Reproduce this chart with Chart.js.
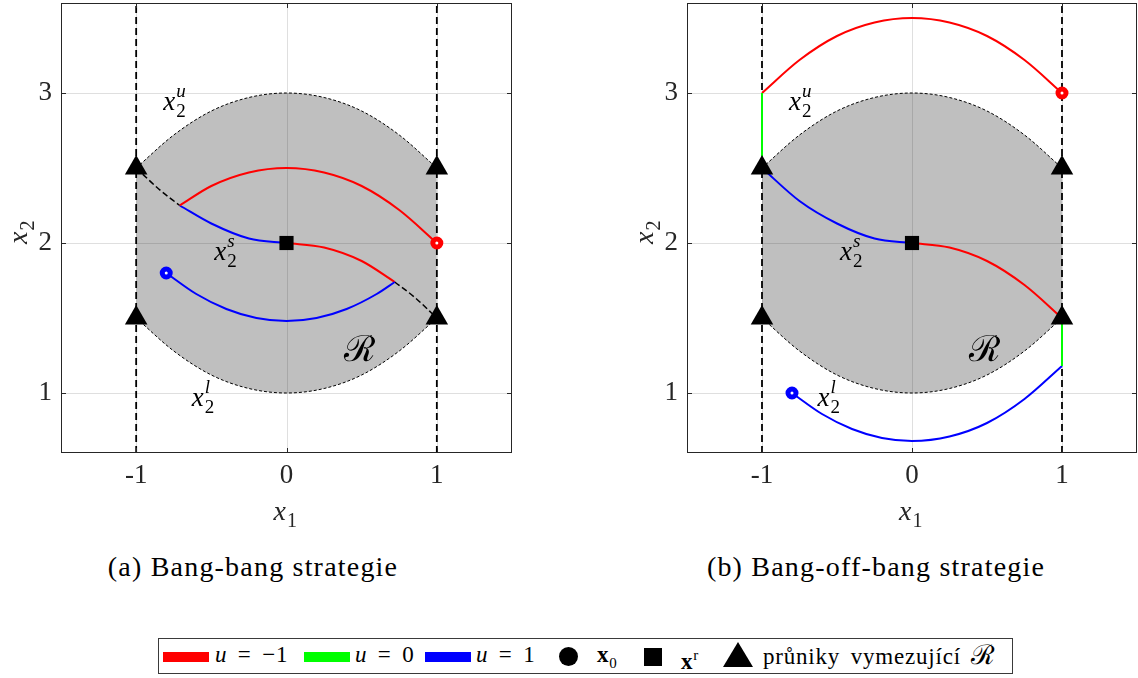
<!DOCTYPE html>
<html>
<head>
<meta charset="utf-8">
<title>Bang-bang a bang-off-bang strategie</title>
<script src="https://cdn.jsdelivr.net/npm/chart.js@4.4.1/dist/chart.umd.min.js"></script>
<style>
  html, body { margin: 0; padding: 0; background: #fff; }
  body { position: relative; width: 1138px; height: 678px; overflow: hidden;
         font-family: "Liberation Serif", serif; color: #000; }
  canvas { position: absolute; top: 0; }
  #chartA { left: 0; }
  #chartB { left: 569px; }
  .caption { position: absolute; top: 551px; font-size: 28px; letter-spacing: 1.2px; white-space: nowrap;
             transform: translateX(-50%); }
  #legend { position: absolute; left: 158px; top: 638px; width: 855px; height: 36px; box-sizing: border-box;
            border: 1px solid #3a3a3a; font-size: 23px; }
  #legend .it { position: absolute; white-space: nowrap; }
  #legend .sw { top: 13px; width: 46px; height: 10px; }
  #legend .tx { top: 2px; line-height: 28px; letter-spacing: 0.8px; word-spacing: 4px; }
  #legend sub, #legend sup { font-size: 15px; }
  .script { font-family: "DejaVu Serif", serif; font-size: 27px; }
</style>
</head>
<body>
<canvas id="chartA" width="569" height="540"></canvas>
<canvas id="chartB" width="569" height="540"></canvas>

<div class="caption" style="left:253px">(a) Bang-bang strategie</div>
<div class="caption" style="left:876px">(b) Bang-off-bang strategie</div>

<div id="legend">
  <span class="it sw" style="left:4px;background:#ff0000"></span>
  <span class="it tx" style="left:56px"><i>u</i> = −1</span>
  <span class="it sw" style="left:145px;background:#00ff00"></span>
  <span class="it tx" style="left:196px"><i>u</i> = 0</span>
  <span class="it sw" style="left:266px;background:#0000ff"></span>
  <span class="it tx" style="left:317px"><i>u</i> = 1</span>
  <span class="it" style="left:400px;top:8px;width:19px;height:19px;border-radius:50%;background:#000"></span>
  <span class="it tx" style="left:438px"><b>x</b><sub>0</sub></span>
  <span class="it" style="left:485px;top:9px;width:18px;height:18px;background:#000"></span>
  <span class="it tx" style="left:522px"><b>x</b><sup>r</sup></span>
  <span class="it" style="left:564px;top:3px;width:0;height:0;border-left:15px solid transparent;border-right:15px solid transparent;border-bottom:25px solid #000"></span>
  <span class="it tx" style="left:604px">průniky vymezující <span class="script">ℛ</span></span>
</div>

<script>
// axes
const xMin = -1.5, xMax = 1.5;
const yMin = 0.6, yMax = 3.6;
const xTicks = [-1, 0, 1];
const yTicks = [1, 2, 3];

// region R: upper bound x2^u and lower bound x2^l
const regionX = [-1, -0.75, -0.5, -0.25, 0, 0.25, 0.5, 0.75, 1];
const upperX2 = [2.5, 2.72, 2.88, 2.97, 3, 2.97, 2.88, 2.72, 2.5];
const lowerX2 = [1.5, 1.28, 1.12, 1.03, 1, 1.03, 1.12, 1.28, 1.5];

// switching curve x2^s
const switchLX = [-1, -0.75, -0.5, -0.25, 0];
const switchLY = [2.5, 2.28, 2.13, 2.03, 2];
const switchRX = [0, 0.25, 0.5, 0.75, 1];
const switchRY = [2, 1.97, 1.88, 1.72, 1.5];
// parts of x2^s not followed by a trajectory in (a)
const switchOutLX = [-1, -0.85, -0.71];
const switchOutLY = [2.5, 2.36, 2.25];
const switchOutRX = [0.72, 0.85, 1];
const switchOutRY = [1.74, 1.64, 1.5];

// intersections bounding R, target state
const cornerX = [-1, -1, 1, 1];
const cornerY = [2.5, 1.5, 2.5, 1.5];
const refX = [0];
const refY = [2];

// (a) bang-bang
const aRedX = [1, 0.75, 0.5, 0.25, 0, -0.25, -0.5, -0.71];
const aRedY = [2, 2.22, 2.38, 2.47, 2.5, 2.47, 2.38, 2.25];
const aBlueSwX = [-0.71, -0.5, -0.25, 0];
const aBlueSwY = [2.25, 2.13, 2.03, 2];
const aBlueX = [-0.8, -0.6, -0.4, -0.2, 0, 0.2, 0.4, 0.6, 0.72];
const aBlueY = [1.8, 1.66, 1.56, 1.5, 1.48, 1.5, 1.56, 1.66, 1.74];
const aRedSwX = [0, 0.25, 0.5, 0.72];
const aRedSwY = [2, 1.97, 1.88, 1.74];
const aStartRed = [1, 2];
const aStartBlue = [-0.8, 1.8];

// (b) bang-off-bang
const bRedX = [1, 0.75, 0.5, 0.25, 0, -0.25, -0.5, -0.75, -1];
const bRedY = [3, 3.22, 3.38, 3.47, 3.5, 3.47, 3.38, 3.22, 3];
const bGreenLX = [-1, -1];
const bGreenLY = [3, 2.5];
const bBlueX = [-0.8, -0.6, -0.4, -0.2, 0, 0.25, 0.5, 0.75, 1];
const bBlueY = [1, 0.86, 0.76, 0.7, 0.68, 0.71, 0.8, 0.96, 1.18];
const bGreenRX = [1, 1];
const bGreenRY = [1.18, 1.5];
const bStartRed = [1, 3];
const bStartBlue = [-0.8, 1];

const RED = '#ff0000', GREEN = '#00ff00', BLUE = '#0000ff', INK = '#262626';
const SERIF = '"Liberation Serif", serif';

const pts = (xs, ys) => xs.map((x, i) => ({ x, y: ys[i] }));

function curve(xs, ys, color) {
  return { data: pts(xs, ys), borderColor: color, borderWidth: 2, pointRadius: 0, fill: false,
           cubicInterpolationMode: 'monotone', order: 3 };
}
function segment(xs, ys, color, width, dash, order) {
  return { data: pts(xs, ys), borderColor: color, borderWidth: width, borderDash: dash, pointRadius: 0,
           fill: false, tension: 0, order };
}
function dashedCurve(xs, ys) {
  return { data: pts(xs, ys), borderColor: '#000', borderWidth: 1.5, borderDash: [6, 3], pointRadius: 0,
           fill: false, cubicInterpolationMode: 'monotone', order: 7 };
}
function marks(xs, ys, style, radius, color) {
  return { data: pts(xs, ys), showLine: false, pointStyle: style, pointRadius: radius,
           pointBackgroundColor: color, pointBorderColor: color, pointBorderWidth: 0, order: 1 };
}
function start(p, color) {
  return { data: [{ x: p[0], y: p[1] }], showLine: false, pointStyle: 'circle', pointRadius: 4,
           pointBorderWidth: 5, pointBorderColor: color, pointBackgroundColor: '#fff', order: 0 };
}
function baseSets() {
  return [
    { data: pts(regionX, upperX2), borderColor: '#000', borderWidth: 1, borderDash: [3, 2], pointRadius: 0,
      cubicInterpolationMode: 'monotone', fill: '+1', backgroundColor: '#bfbfbf', order: 9 },
    { data: pts(regionX, lowerX2), borderColor: '#000', borderWidth: 1, borderDash: [3, 2], pointRadius: 0,
      cubicInterpolationMode: 'monotone', fill: false, order: 9 },
    segment([-1, -1], [yMin, yMax], '#000', 1.8, [7, 4], 8),
    segment([1, 1], [yMin, yMax], '#000', 1.8, [7, 4], 8)
  ];
}

// italic symbol with optional subscript / superscript
function mathText(ctx, x, y, base, sub, sup, size) {
  ctx.textAlign = 'left';
  ctx.textBaseline = 'alphabetic';
  ctx.font = `italic ${size}px ${SERIF}`;
  ctx.fillText(base, x, y);
  const w = ctx.measureText(base).width;
  const small = Math.round(size * 0.7);
  if (sub) { ctx.font = `${small}px ${SERIF}`; ctx.fillText(sub, x + w + 1, y + size * 0.26); }
  if (sup) { ctx.font = `italic ${small}px ${SERIF}`; ctx.fillText(sup, x + w + 1, y - size * 0.48); }
}

const decor = {
  id: 'decor',
  beforeDatasetsDraw(chart) {
    const { ctx, chartArea: a, scales: { x, y } } = chart;
    ctx.save();
    ctx.strokeStyle = 'rgba(38,38,38,0.15)';
    ctx.lineWidth = 1;
    ctx.beginPath();
    xTicks.forEach(v => { const p = Math.round(x.getPixelForValue(v)) + 0.5; ctx.moveTo(p, a.top); ctx.lineTo(p, a.bottom); });
    yTicks.forEach(v => { const p = Math.round(y.getPixelForValue(v)) + 0.5; ctx.moveTo(a.left, p); ctx.lineTo(a.right, p); });
    ctx.stroke();
    ctx.restore();
  },
  afterDatasetsDraw(chart) {
    const { ctx, scales: { x, y } } = chart;
    ctx.save();
    ctx.fillStyle = '#000';
    mathText(ctx, x.getPixelForValue(-0.82), y.getPixelForValue(2.887), 'x', '2', 'u', 27);
    mathText(ctx, x.getPixelForValue(-0.48), y.getPixelForValue(1.887), 'x', '2', 's', 27);
    mathText(ctx, x.getPixelForValue(-0.63), y.getPixelForValue(0.913), 'x', '2', 'l', 27);
    ctx.font = '36px "DejaVu Serif", serif';
    ctx.fillText('ℛ', x.getPixelForValue(0.38), y.getPixelForValue(1.213));
    ctx.restore();
  },
  afterDraw(chart) {
    const { ctx, chartArea: a, scales: { x, y } } = chart;
    const L = Math.round(a.left), R = Math.round(a.right), T = Math.round(a.top), B = Math.round(a.bottom);
    ctx.save();
    ctx.strokeStyle = INK;
    ctx.lineWidth = 1;
    ctx.strokeRect(L + 0.5, T + 0.5, R - L - 1, B - T - 1);
    ctx.beginPath();
    xTicks.forEach(v => {
      const p = Math.round(x.getPixelForValue(v)) + 0.5;
      ctx.moveTo(p, B); ctx.lineTo(p, B - 5); ctx.moveTo(p, T); ctx.lineTo(p, T + 5);
    });
    yTicks.forEach(v => {
      const p = Math.round(y.getPixelForValue(v)) + 0.5;
      ctx.moveTo(L, p); ctx.lineTo(L + 5, p); ctx.moveTo(R, p); ctx.lineTo(R - 5, p);
    });
    ctx.stroke();

    // axis titles
    ctx.fillStyle = INK;
    const cx = (L + R) / 2;
    mathText(ctx, cx - 13, 520, 'x', '1', null, 28);
    ctx.translate(L - 34, (T + B) / 2 + 3);
    ctx.rotate(-Math.PI / 2);
    mathText(ctx, -13, 0, 'x', '2', null, 28);
    ctx.restore();
  }
};

function makeChart(id, datasets, yWidth, padRight) {
  return new Chart(document.getElementById(id), {
    type: 'line',
    data: { datasets },
    options: {
      responsive: false,
      animation: false,
      events: [],
      layout: { autoPadding: false, padding: { left: 0, right: padRight, top: 3, bottom: 0 } },
      plugins: {
        legend: { display: false },
        tooltip: { enabled: false },
        filler: { drawTime: 'beforeDatasetsDraw' }
      },
      scales: {
        x: {
          type: 'linear', min: xMin, max: xMax,
          grid: { display: false, drawTicks: false }, border: { display: false },
          ticks: { color: INK, padding: 7, maxRotation: 0, font: { family: SERIF, size: 27 } },
          afterBuildTicks: s => { s.ticks = xTicks.map(v => ({ value: v })); },
          afterFit: s => { s.height = 87; s.paddingLeft = 0; s.paddingRight = 0; }
        },
        y: {
          type: 'linear', min: yMin, max: yMax,
          grid: { display: false, drawTicks: false }, border: { display: false },
          ticks: { color: INK, padding: 9, font: { family: SERIF, size: 27 } },
          afterBuildTicks: s => { s.ticks = yTicks.map(v => ({ value: v })); },
          afterFit: s => { s.width = yWidth; s.paddingTop = 0; s.paddingBottom = 0; }
        }
      }
    },
    plugins: [decor]
  });
}

// (a) bang-bang
makeChart('chartA', [
  ...baseSets(),
  dashedCurve(switchOutLX, switchOutLY),
  dashedCurve(switchOutRX, switchOutRY),
  curve(aRedX, aRedY, RED),
  curve(aBlueSwX, aBlueSwY, BLUE),
  curve(aBlueX, aBlueY, BLUE),
  curve(aRedSwX, aRedSwY, RED),
  marks(cornerX, cornerY, 'triangle', 13, '#000'),
  marks(refX, refY, 'rect', 10, '#000'),
  start(aStartRed, RED),
  start(aStartBlue, BLUE)
], 61, 57);

// (b) bang-off-bang
makeChart('chartB', [
  ...baseSets(),
  curve(bRedX, bRedY, RED),
  segment(bGreenLX, bGreenLY, GREEN, 2, [], 2),
  curve(switchLX, switchLY, BLUE),
  curve(bBlueX, bBlueY, BLUE),
  segment(bGreenRX, bGreenRY, GREEN, 2, [], 2),
  curve(switchRX, switchRY, RED),
  marks(cornerX, cornerY, 'triangle', 13, '#000'),
  marks(refX, refY, 'rect', 10, '#000'),
  start(bStartRed, RED),
  start(bStartBlue, BLUE)
], 118, 1);
</script>
</body>
</html>
